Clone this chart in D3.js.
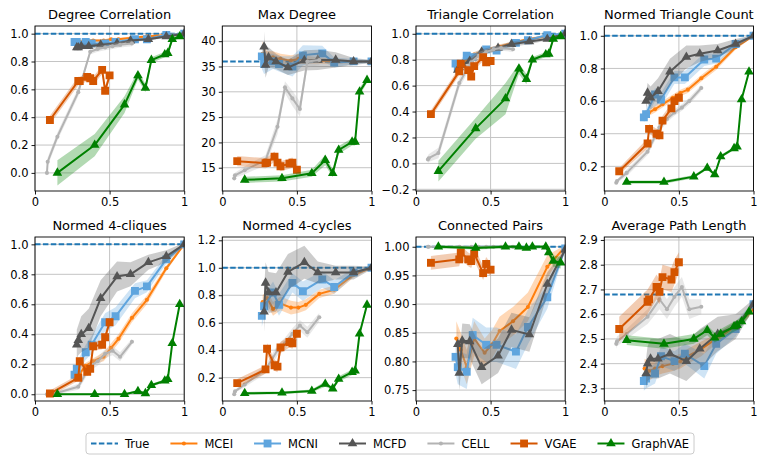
<!DOCTYPE html>
<html><head><meta charset="utf-8">
<script src="https://cdn.jsdelivr.net/npm/d3@7"></script>
<style>body{margin:0;background:#fff} svg{display:block} text{font-family:"DejaVu Sans",sans-serif;fill:#000}</style>
</head><body><svg id="c" width="768" height="463"></svg>
<script>
// ---------- data ----------
const methods = ["MCEI","MCNI","MCFD","CELL","VGAE","GraphVAE"];
const xMCEI     = [0.27, 0.30, 0.34, 0.39, 0.46, 0.51, 0.56, 0.65, 0.75, 0.88, 1.0];
const xMCNI     = [0.265, 0.28, 0.34, 0.38, 0.47, 0.54, 0.67, 0.75, 0.88, 1.0];
const xMCFD     = [0.28, 0.29, 0.31, 0.36, 0.44, 0.55, 0.64, 0.76, 0.88, 1.0];
const xCELL     = [0.08, 0.085, 0.15, 0.29, 0.37, 0.42, 0.47, 0.52, 0.57, 0.65];
const xVGAE     = [0.10, 0.29, 0.30, 0.35, 0.37, 0.39, 0.45, 0.47, 0.50];
const xGraphVAE = [0.15, 0.40, 0.60, 0.69, 0.74, 0.78, 0.87, 0.89, 0.92, 0.97];

const titles = ["Degree Correlation","Max Degree","Triangle Correlation","Normed Triangle Count",
                "Normed 4-cliques","Normed 4-cycles","Connected Pairs","Average Path Length"];
const trueValues = [1.0, 36, 1.0, 1.0, 1.0, 1.0, 1.0, 2.68];
const xTickValues = [0, 0.5, 1];
const xTickLabels = ["0", "0.5", "1"];

// Degree Correlation
const degCorrMean = {
  MCEI:[0.94,0.94,0.95,0.95,0.95,0.96,0.96,0.97,0.98,0.99,1.0],
  MCNI:[0.94,0.94,0.94,0.93,0.93,0.94,0.96,0.96,0.99,1.0],
  MCFD:[0.90,0.90,0.91,0.91,0.92,0.93,0.95,0.96,0.98,1.0],
  CELL:[0.0,0.08,0.26,0.58,0.87,0.89,0.90,0.91,0.92,0.93],
  VGAE:[0.38,0.66,0.66,0.69,0.68,0.66,0.74,0.59,0.70],
  GraphVAE:[0.0,0.20,0.49,0.70,0.61,0.81,0.85,0.86,0.96,0.98]};
const degCorrStd = {
  MCEI:[0.015,0.015,0.01,0.01,0.01,0.01,0.01,0.01,0.01,0.005,0.002],
  MCNI:[0.02,0.02,0.015,0.015,0.015,0.01,0.01,0.01,0.01,0.005],
  MCFD:[0.02,0.02,0.02,0.015,0.015,0.01,0.01,0.01,0.01,0.005],
  CELL:[0.03,0.03,0.03,0.03,0.02,0.02,0.02,0.02,0.02,0.02],
  VGAE:[0.03,0.03,0.03,0.03,0.03,0.03,0.03,0.03,0.03],
  GraphVAE:[0.09,0.08,0.06,0.03,0.03,0.02,0.02,0.02,0.02,0.01]};

// Max Degree
const maxDegMean = {
  MCEI:[37.5,36.5,36.8,36.5,36.2,36.5,36.3,36.2,36.0,36.0,36.0],
  MCNI:[37.0,35.5,36.0,35.5,35.0,37.2,37.6,35.8,36.0,36.0],
  MCFD:[38.9,35.3,36.8,36.0,34.8,36.2,36.3,36.3,36.0,36.0],
  CELL:[12.9,13.5,14.5,16.5,23.1,30.9,28.7,26.6,36.0,36.3],
  VGAE:[16.3,15.9,16.0,17.2,16.0,15.3,15.8,16.0,14.6],
  GraphVAE:[12.6,12.9,13.9,16.5,13.9,18.5,20.1,20.1,30.0,32.3]};
const maxDegStd = {
  MCEI:[2.5,1.5,1.2,1.0,1.0,1.0,0.8,0.6,0.5,0.3,0.2],
  MCNI:[2.5,2,1.5,1.5,2,2,1.5,1,0.5,0.3],
  MCFD:[3,2.5,2,1.5,1.5,2,2,1.5,0.7,0.3],
  CELL:[0.5,0.5,0.8,1,1.5,1.2,1.5,1.5,1.2,1],
  VGAE:[1,1,1,1,1,1,1,1,1],
  GraphVAE:[0.6,0.6,0.7,1,0.8,0.8,0.7,0.7,0.8,0.5]};

// Triangle Correlation
const triCorrMean = {
  MCEI:[0.74,0.76,0.80,0.84,0.87,0.88,0.90,0.93,0.96,0.98,1.0],
  MCNI:[0.77,0.74,0.83,0.82,0.88,0.87,0.93,0.95,0.99,1.0],
  MCFD:[0.72,0.74,0.76,0.79,0.86,0.89,0.92,0.94,0.96,1.0],
  CELL:[0.03,0.04,0.08,0.62,0.78,0.83,0.86,0.88,0.89,0.88],
  VGAE:[0.38,0.71,0.77,0.72,0.67,0.75,0.82,0.78,0.79],
  GraphVAE:[-0.06,0.27,0.50,0.73,0.65,0.80,0.84,0.845,0.96,0.98]};
const triCorrStd = {
  MCEI:[0.03,0.03,0.03,0.02,0.02,0.02,0.02,0.01,0.01,0.01,0.005],
  MCNI:[0.03,0.03,0.03,0.03,0.02,0.02,0.02,0.01,0.01,0.005],
  MCFD:[0.03,0.03,0.03,0.03,0.02,0.02,0.02,0.02,0.01,0.005],
  CELL:[0.03,0.03,0.04,0.04,0.03,0.03,0.02,0.02,0.02,0.02],
  VGAE:[0.03,0.03,0.03,0.03,0.03,0.03,0.03,0.03,0.03],
  GraphVAE:[0.08,0.08,0.12,0.04,0.04,0.02,0.02,0.02,0.02,0.01]};

// Normed Triangle Count
const triCountMean = {
  MCEI:[0.52,0.53,0.55,0.58,0.62,0.65,0.67,0.74,0.81,0.93,1.0],
  MCNI:[0.50,0.52,0.64,0.61,0.745,0.745,0.855,0.86,0.95,1.0],
  MCFD:[0.60,0.65,0.62,0.66,0.78,0.87,0.89,0.91,0.95,1.0],
  CELL:[0.10,0.11,0.16,0.29,0.44,0.49,0.53,0.56,0.60,0.68],
  VGAE:[0.17,0.34,0.43,0.40,0.39,0.48,0.555,0.60,0.62],
  GraphVAE:[0.104,0.104,0.137,0.19,0.15,0.26,0.31,0.32,0.61,0.78]};
const triCountStd = {
  MCEI:[0.02,0.02,0.02,0.02,0.02,0.02,0.02,0.02,0.02,0.015,0.005],
  MCNI:[0.03,0.03,0.04,0.04,0.04,0.04,0.04,0.03,0.02,0.005],
  MCFD:[0.05,0.06,0.07,0.08,0.08,0.07,0.05,0.04,0.03,0.005],
  CELL:[0.01,0.01,0.02,0.02,0.03,0.02,0.02,0.02,0.02,0.02],
  VGAE:[0.02,0.03,0.03,0.03,0.03,0.03,0.03,0.03,0.03],
  GraphVAE:[0.01,0.01,0.01,0.01,0.01,0.01,0.01,0.01,0.01,0.01]};

// Normed 4-cliques
const cliquesMean = {
  MCEI:[0.10,0.14,0.19,0.22,0.25,0.31,0.37,0.51,0.63,0.84,1.0],
  MCNI:[0.13,0.17,0.28,0.33,0.48,0.52,0.69,0.72,0.90,1.0],
  MCFD:[0.33,0.36,0.40,0.44,0.64,0.785,0.80,0.88,0.92,1.0],
  CELL:[0.0,0.0,0.01,0.05,0.19,0.22,0.27,0.29,0.25,0.35],
  VGAE:[0.005,0.11,0.22,0.15,0.17,0.32,0.33,0.38,0.48],
  GraphVAE:[0.0,0.0,0.0,0.02,0.006,0.06,0.09,0.10,0.34,0.60]};
const cliquesStd = {
  MCEI:[0.02,0.02,0.02,0.02,0.03,0.03,0.03,0.03,0.03,0.02,0.005],
  MCNI:[0.04,0.04,0.05,0.06,0.06,0.06,0.05,0.04,0.03,0.005],
  MCFD:[0.1,0.1,0.12,0.13,0.12,0.1,0.08,0.05,0.04,0.01],
  CELL:[0.01,0.01,0.01,0.02,0.03,0.03,0.03,0.03,0.03,0.02],
  VGAE:[0.02,0.02,0.03,0.03,0.03,0.03,0.03,0.03,0.03],
  GraphVAE:[0.005,0.005,0.005,0.01,0.01,0.01,0.01,0.01,0.01,0.01]};

// Normed 4-cycles
const cyclesMean = {
  MCEI:[0.75,0.78,0.70,0.74,0.71,0.71,0.73,0.81,0.84,0.95,1.0],
  MCNI:[0.65,0.72,0.82,0.73,0.89,0.83,0.915,0.86,0.965,1.0],
  MCFD:[0.68,0.89,0.82,0.82,0.97,1.04,0.965,0.965,0.965,1.0],
  CELL:[0.08,0.10,0.15,0.26,0.40,0.45,0.52,0.58,0.53,0.64],
  VGAE:[0.16,0.26,0.41,0.29,0.28,0.42,0.46,0.45,0.52],
  GraphVAE:[0.086,0.09,0.103,0.154,0.12,0.19,0.24,0.25,0.52,0.73]};
const cyclesStd = {
  MCEI:[0.05,0.05,0.05,0.05,0.05,0.04,0.04,0.03,0.03,0.02,0.005],
  MCNI:[0.08,0.08,0.08,0.08,0.07,0.07,0.06,0.05,0.03,0.005],
  MCFD:[0.15,0.15,0.15,0.14,0.13,0.12,0.08,0.05,0.05,0.01],
  CELL:[0.01,0.01,0.02,0.03,0.04,0.04,0.04,0.04,0.04,0.03],
  VGAE:[0.03,0.03,0.04,0.04,0.04,0.04,0.04,0.04,0.04],
  GraphVAE:[0.01,0.01,0.01,0.02,0.01,0.02,0.02,0.02,0.02,0.01]};

// Connected Pairs
const pairsMean = {
  MCEI:[0.84,0.82,0.79,0.84,0.815,0.83,0.853,0.87,0.895,0.965,1.0],
  MCNI:[0.808,0.79,0.782,0.846,0.829,0.829,0.817,0.86,0.912,0.997],
  MCFD:[0.83,0.78,0.836,0.835,0.79,0.81,0.855,0.847,0.935,0.995],
  CELL:[1.0,1.0,1.0,1.0,1.0,1.0,1.0,1.0,1.0,1.0],
  VGAE:[0.972,0.978,0.99,0.978,0.975,0.988,0.954,0.97,0.96],
  GraphVAE:[1.0,0.998,1.0,1.0,0.998,1.0,1.0,0.99,0.975,0.972]};
const pairsStd = {
  MCEI:[0.03,0.03,0.03,0.03,0.025,0.025,0.025,0.025,0.025,0.02,0.003],
  MCNI:[0.03,0.03,0.03,0.03,0.03,0.03,0.03,0.03,0.02,0.003],
  MCFD:[0.03,0.03,0.03,0.03,0.03,0.03,0.03,0.03,0.02,0.003],
  CELL:[0.001,0.001,0.001,0.001,0.001,0.001,0.001,0.001,0.001,0.001],
  VGAE:[0.012,0.012,0.012,0.012,0.012,0.012,0.012,0.012,0.012],
  GraphVAE:[0.003,0.003,0.003,0.003,0.003,0.003,0.003,0.005,0.01,0.01]};

// Average Path Length
const aplMean = {
  MCEI:[2.38,2.37,2.38,2.39,2.40,2.41,2.43,2.46,2.50,2.55,2.62],
  MCNI:[2.33,2.34,2.36,2.43,2.41,2.44,2.39,2.48,2.54,2.64],
  MCFD:[2.36,2.40,2.42,2.42,2.44,2.41,2.46,2.52,2.55,2.64],
  CELL:[2.48,2.49,2.52,2.59,2.66,2.62,2.67,2.71,2.62,2.63],
  VGAE:[2.54,2.65,2.66,2.71,2.69,2.75,2.74,2.77,2.81],
  GraphVAE:[2.495,2.48,2.50,2.535,2.505,2.52,2.55,2.555,2.57,2.61]};
const aplStd = {
  MCEI:[0.04,0.04,0.03,0.03,0.03,0.03,0.03,0.03,0.02,0.02,0.01],
  MCNI:[0.04,0.04,0.04,0.04,0.04,0.04,0.05,0.04,0.03,0.01],
  MCFD:[0.06,0.07,0.08,0.08,0.08,0.08,0.08,0.07,0.05,0.02],
  CELL:[0.02,0.02,0.02,0.03,0.04,0.04,0.04,0.04,0.04,0.03],
  VGAE:[0.05,0.05,0.05,0.05,0.05,0.05,0.05,0.05,0.04],
  GraphVAE:[0.02,0.02,0.02,0.02,0.02,0.02,0.02,0.02,0.02,0.02]};

// axis limits and ticks
const yDomains = [[-0.13,1.055],[10.4,43.0],[-0.213,1.06],[0.049,1.06],
                  [-0.045,1.049],[0.03,1.224],[0.731,1.017],[2.249,2.912]];
const yTicks = [[0,0.2,0.4,0.6,0.8,1.0],[15,20,25,30,35,40],[-0.2,0,0.2,0.4,0.6,0.8,1.0],
                [0.2,0.4,0.6,0.8,1.0],[0,0.2,0.4,0.6,0.8,1.0],[0.2,0.4,0.6,0.8,1.0,1.2],
                [0.75,0.80,0.85,0.90,0.95,1.00],[2.3,2.4,2.5,2.6,2.7,2.8,2.9]];
const yFormats = [".1f","d",".1f",".1f",".1f",".1f",".2f",".1f"];

// ---------- styles / layout ----------
const xsByMethod = {MCEI:xMCEI, MCNI:xMCNI, MCFD:xMCFD, CELL:xCELL, VGAE:xVGAE, GraphVAE:xGraphVAE};
const colors = {MCEI:"#ff7f0e", MCNI:"#5fa5de", MCFD:"#555555", CELL:"#b3b3b3", VGAE:"#d45500", GraphVAE:"#008000"};
const markers = {MCEI:["circle",13], MCNI:["square",62], MCFD:["triangle",40], CELL:["circle",13], VGAE:["square",62], GraphVAE:["triangle",40]};
const symTypes = {circle:d3.symbolCircle, square:d3.symbolSquare, triangle:d3.symbolTriangle};
const trueColor = "#1f77b4";
const means = [degCorrMean,maxDegMean,triCorrMean,triCountMean,cliquesMean,cyclesMean,pairsMean,aplMean];
const stds  = [degCorrStd,maxDegStd,triCorrStd,triCountStd,cliquesStd,cyclesStd,pairsStd,aplStd];

const colLeft = [35, 222.3, 416, 604.3];
const panelW = 149.2;
const rowTop = [26, 237], rowBottom = [191, 401];

const svg = d3.select("#c");

means.forEach((meanObj, i) => {
  const r = Math.floor(i/4), c = i%4;
  const L = colLeft[c], R = L + panelW, T = rowTop[r], B = rowBottom[r];
  const x = d3.scaleLinear().domain([0,1]).range([L,R]);
  const y = d3.scaleLinear().domain(yDomains[i]).range([B,T]);
  const g = svg.append("g");
  const clipId = "clip"+i;
  svg.append("clipPath").attr("id",clipId).append("rect").attr("x",L).attr("y",T).attr("width",R-L).attr("height",B-T);

  // grid
  const grid = g.append("g").attr("stroke","#c4c4c4").attr("stroke-width",1);
  yTicks[i].forEach(t => grid.append("line").attr("x1",L).attr("x2",R).attr("y1",y(t)).attr("y2",y(t)));
  xTickValues.forEach(t => grid.append("line").attr("x1",x(t)).attr("x2",x(t)).attr("y1",T).attr("y2",B));

  const plot = g.append("g").attr("clip-path",`url(#${clipId})`);
  // true line
  plot.append("line").attr("x1",L).attr("x2",R).attr("y1",y(trueValues[i])).attr("y2",y(trueValues[i]))
    .attr("stroke",trueColor).attr("stroke-width",2).attr("stroke-dasharray","5.5,2.4");

  methods.forEach(m => {
    const pts = xsByMethod[m].map((xv,k) => ({x:xv, m:meanObj[m][k], s:stds[i][m][k]}));
    const col = colors[m];
    plot.append("path").datum(pts)
      .attr("d", d3.area().x(d=>x(d.x)).y0(d=>y(d.m-d.s)).y1(d=>y(d.m+d.s)))
      .attr("fill",col).attr("fill-opacity",0.3).attr("stroke","none");
    plot.append("path").datum(pts)
      .attr("d", d3.line().x(d=>x(d.x)).y(d=>y(d.m)))
      .attr("fill","none").attr("stroke",col).attr("stroke-width",2).attr("stroke-linejoin","round");
    const sym = d3.symbol().type(symTypes[markers[m][0]]).size(markers[m][1]);
    plot.selectAll(null).data(pts).enter().append("path")
      .attr("transform", d=>`translate(${x(d.x)},${y(d.m)})`)
      .attr("d", sym).attr("fill",col);
  });

  // spines
  g.append("rect").attr("x",L).attr("y",T).attr("width",R-L).attr("height",B-T)
    .attr("fill","none").attr("stroke","#000").attr("stroke-width",0.9);

  // axes
  const ya = g.append("g").attr("transform",`translate(${L},0)`)
    .call(d3.axisLeft(y).tickValues(yTicks[i]).tickFormat(d3.format(yFormats[i])).tickSize(3.5).tickPadding(3));
  const xa = g.append("g").attr("transform",`translate(0,${B})`)
    .call(d3.axisBottom(x).tickValues(xTickValues).tickFormat((d,k)=>xTickLabels[k]).tickSize(3.5).tickPadding(3));
  [ya,xa].forEach(a => {
    a.select(".domain").remove();
    a.selectAll("text").attr("font-family","DejaVu Sans").attr("font-size",11.5).attr("fill","#000");
    a.selectAll("line").attr("stroke","#000").attr("stroke-width",0.9);
  });

  g.append("text").attr("x",(L+R)/2).attr("y",T-7).attr("text-anchor","middle")
    .attr("font-size",13).text(titles[i]);
});

// ---------- legend ----------
const legendItems = [{name:"True", color:trueColor, dashed:true}]
  .concat(methods.map(m => ({name:m, color:colors[m], marker:markers[m]})));
const lg = svg.append("g");
const box = lg.append("rect").attr("y",433).attr("height",21).attr("rx",3)
  .attr("fill","#fff").attr("stroke","#cccccc").attr("stroke-width",1);
let cx = 0;
const ly = 443.5;
const items = lg.append("g");
legendItems.forEach((it, k) => {
  const gi = items.append("g").attr("transform",`translate(${cx},0)`);
  gi.append("line").attr("x1",0).attr("x2",27).attr("y1",ly).attr("y2",ly)
    .attr("stroke",it.color).attr("stroke-width",2)
    .attr("stroke-dasharray", it.dashed ? "5.5,2.4" : null);
  if (it.marker) {
    gi.append("path").attr("transform",`translate(13.5,${ly})`)
      .attr("d", d3.symbol().type(symTypes[it.marker[0]]).size(it.marker[1])).attr("fill",it.color);
  }
  const t = gi.append("text").attr("x",34).attr("y",ly+4).attr("font-size",11.5).text(it.name);
  cx += 34 + t.node().getComputedTextLength() + 21;
});
const total = cx - 21;
const startX = 390 - total/2;
items.attr("transform",`translate(${startX},0)`);
box.attr("x",startX-5).attr("width",total+10);
</script></body></html>
